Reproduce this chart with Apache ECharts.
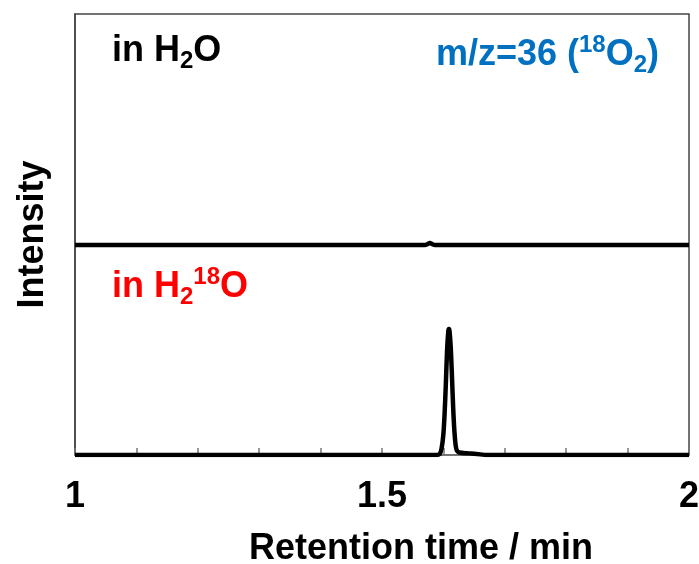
<!DOCTYPE html>
<html>
<head>
<meta charset="utf-8">
<script src="https://cdn.jsdelivr.net/npm/echarts@6/dist/echarts.min.js"></script>
<style>html,body{margin:0;padding:0;background:#fff}#c{width:699px;height:564px}</style>
</head>
<body>
<div id="c"></div>
<script>
// Retention time (min) and intensity (arb.) for each trace
const timeH2O = [1.0, 1.5, 1.570, 1.574, 1.578, 1.582, 1.586, 1.7, 2.0];
const intH2O  = [1.0, 1.0, 1.000, 1.004, 1.009, 1.004, 1.000, 1.0, 1.0];

const timeH218O = [1.0, 1.5, 1.588, 1.594, 1.597, 1.600, 1.602, 1.604, 1.606, 1.608, 1.609, 1.610, 1.612, 1.614, 1.616, 1.618, 1.620, 1.622, 1.626, 1.640, 1.660, 1.670, 2.0];
const intH218O  = [0.0, 0.0, 0.000, 0.005, 0.030, 0.100, 0.200, 0.340, 0.500, 0.590, 0.600, 0.590, 0.510, 0.370, 0.220, 0.110, 0.045, 0.020, 0.012, 0.008, 0.003, 0.000, 0.0];

const xTickLabels = [1, 1.5, 2];
const yTicks = [1];

const FONT = '"Liberation Sans", Arial, sans-serif';

function pairs(xs, ys) { return xs.map((x, i) => [x, ys[i]]); }

const chart = echarts.init(document.getElementById('c'), null, {renderer: 'canvas'});

function rich(color) {
  return {
    m:   {fontSize: 36, fontWeight: 'bold', fontFamily: FONT, fill: color, lineHeight: 44},
    sub: {fontSize: 24, fontWeight: 'bold', fontFamily: FONT, fill: color, lineHeight: 24, verticalAlign: 'bottom'},
    sup: {fontSize: 24, fontWeight: 'bold', fontFamily: FONT, fill: color, lineHeight: 24, verticalAlign: 'top'}
  };
}

chart.setOption({
  animation: false,
  grid: {left: 75, right: 10, top: 14, bottom: 109, outerBoundsMode: 'none', containLabel: false,
    show: true, borderColor: '#444', borderWidth: 1.5},
  xAxis: {
    type: 'value', min: 1, max: 2, interval: 0.1,
    axisLine: {lineStyle: {color: '#777', width: 1.5}},
    axisTick: {inside: true, length: 7, lineStyle: {color: '#777', width: 1.5}},
    splitLine: {show: false},
    axisLabel: {customValues: xTickLabels, fontSize: 36, fontWeight: 'bold', fontFamily: FONT, color: '#000', margin: 24,
      formatter: v => String(v)},
    name: 'Retention time / min', nameLocation: 'middle', nameGap: 76,
    nameTextStyle: {fontSize: 36, fontWeight: 'bold', fontFamily: FONT, color: '#000', padding: [0, 0, 0, 78]}
  },
  yAxis: {
    type: 'value', min: 0, max: 2.1,
    axisLine: {show: true, lineStyle: {color: '#444', width: 1.5}},
    axisTick: {show: true, inside: true, length: 7, customValues: yTicks, lineStyle: {color: '#444', width: 1.5}},
    axisLabel: {show: false},
    splitLine: {show: false},
    name: 'Intensity', nameLocation: 'middle', nameGap: 24,
    nameTextStyle: {fontSize: 36, fontWeight: 'bold', fontFamily: FONT, color: '#000'}
  },
  series: [
    {type: 'line', data: pairs(timeH2O, intH2O), showSymbol: false, smooth: 0.3,
      lineStyle: {color: '#000', width: 4.5}},
    {type: 'line', data: pairs(timeH218O, intH218O), showSymbol: false, smooth: 0.3,
      lineStyle: {color: '#000', width: 4.5}}
  ],
  graphic: [
    {type: 'text', left: 112, top: 33, style: {text: '{m|in H}{sub|2}{m|O}', rich: rich('#000')}},
    {type: 'text', right: 40, top: 33, style: {text: '{m|m/z=36 (}{sup|18}{m|O}{sub|2}{m|)}', rich: rich('#0070C0')}},
    {type: 'text', left: 112, top: 265, style: {text: '{m|in H}{sub|2}{sup|18}{m|O}', rich: rich('#FF0000')}}
  ]
});
</script>
</body>
</html>
